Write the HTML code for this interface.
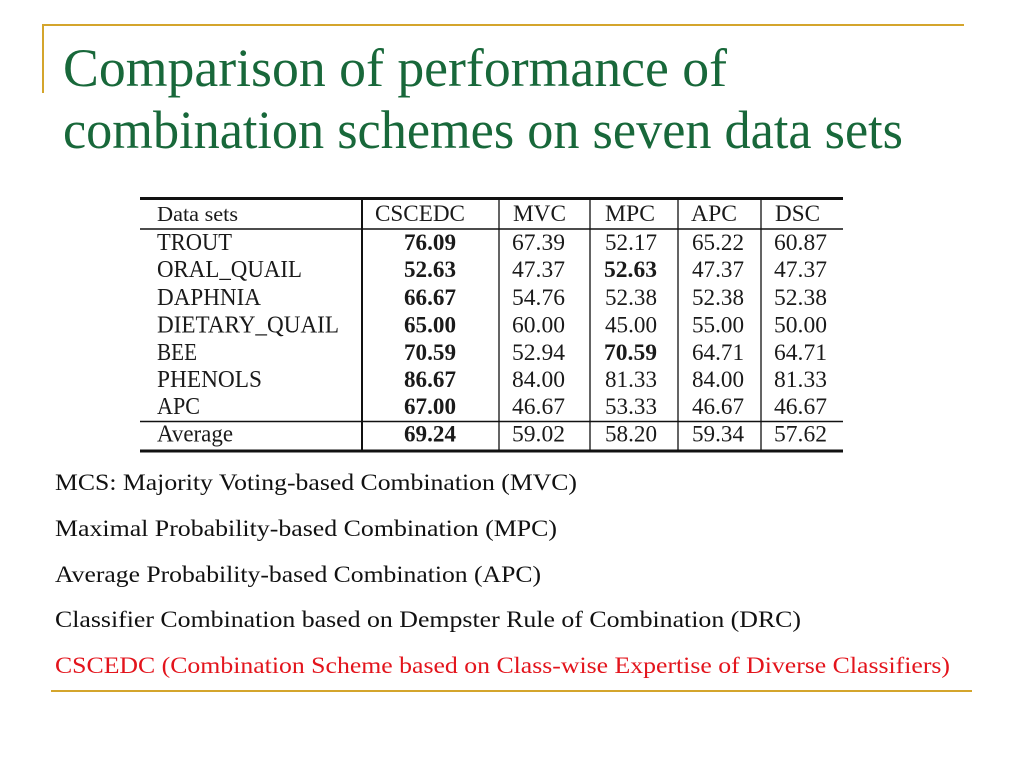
<!DOCTYPE html>
<html>
<head>
<meta charset="utf-8">
<style>
html,body{margin:0;padding:0;background:#fff;}
svg{display:block;}
</style>
</head>
<body>
<svg width="1024" height="768" viewBox="0 0 1024 768" xmlns="http://www.w3.org/2000/svg">
<rect width="1024" height="768" fill="#fff"/>
<!-- gold decorations -->
<line x1="42" y1="25" x2="964" y2="25" stroke="#d4a52c" stroke-width="2"/>
<line x1="43" y1="24" x2="43" y2="93" stroke="#d4a52c" stroke-width="2"/>
<line x1="51" y1="691" x2="972" y2="691" stroke="#d4a52c" stroke-width="2"/>

<!-- title -->
<g font-family="'Liberation Serif', serif" fill="#18683a" font-size="54">
<text x="63" y="86" textLength="664" lengthAdjust="spacingAndGlyphs">Comparison of performance of</text>
<text x="63" y="148" textLength="840" lengthAdjust="spacingAndGlyphs">combination schemes on seven data sets</text>
</g>

<!-- table lines -->
<g stroke="#111">
<line x1="140" y1="198.5" x2="843" y2="198.5" stroke-width="3"/>
<line x1="140" y1="229" x2="843" y2="229" stroke-width="1.5"/>
<line x1="140" y1="421.5" x2="843" y2="421.5" stroke-width="1.5"/>
<line x1="140" y1="451" x2="843" y2="451" stroke-width="3"/>
<line x1="362" y1="198" x2="362" y2="451" stroke-width="2"/>
<line x1="499" y1="198" x2="499" y2="451" stroke-width="1.3"/>
<line x1="590" y1="198" x2="590" y2="451" stroke-width="1.3"/>
<line x1="678" y1="198" x2="678" y2="451" stroke-width="1.3"/>
<line x1="761" y1="198" x2="761" y2="451" stroke-width="1.3"/>
</g>

<!-- table text -->
<g font-family="'Liberation Serif', serif" fill="#1a1a1a" font-size="23">
<text x="157" y="221" font-size="21" textLength="81" lengthAdjust="spacingAndGlyphs">Data sets</text>
<text x="375" y="221" textLength="90" lengthAdjust="spacingAndGlyphs">CSCEDC</text>
<text x="513" y="221" textLength="53" lengthAdjust="spacingAndGlyphs">MVC</text>
<text x="605" y="221" textLength="50" lengthAdjust="spacingAndGlyphs">MPC</text>
<text x="691" y="221" textLength="46" lengthAdjust="spacingAndGlyphs">APC</text>
<text x="775" y="221" textLength="45" lengthAdjust="spacingAndGlyphs">DSC</text>

<g font-size="24">
<text x="157" y="250" textLength="75" lengthAdjust="spacingAndGlyphs">TROUT</text>
<text x="157" y="277" textLength="145" lengthAdjust="spacingAndGlyphs">ORAL_QUAIL</text>
<text x="157" y="305" textLength="104" lengthAdjust="spacingAndGlyphs">DAPHNIA</text>
<text x="157" y="332.5" textLength="182" lengthAdjust="spacingAndGlyphs">DIETARY_QUAIL</text>
<text x="157" y="360" textLength="40" lengthAdjust="spacingAndGlyphs">BEE</text>
<text x="157" y="387" textLength="105" lengthAdjust="spacingAndGlyphs">PHENOLS</text>
<text x="157" y="414" textLength="43" lengthAdjust="spacingAndGlyphs">APC</text>
<text x="157" y="441.5" textLength="76" lengthAdjust="spacingAndGlyphs">Average</text>
</g>

<g font-weight="bold">
<text x="404" y="250" textLength="52" lengthAdjust="spacingAndGlyphs">76.09</text>
<text x="404" y="277" textLength="52" lengthAdjust="spacingAndGlyphs">52.63</text>
<text x="404" y="305" textLength="52" lengthAdjust="spacingAndGlyphs">66.67</text>
<text x="404" y="332.5" textLength="52" lengthAdjust="spacingAndGlyphs">65.00</text>
<text x="404" y="360" textLength="52" lengthAdjust="spacingAndGlyphs">70.59</text>
<text x="404" y="387" textLength="52" lengthAdjust="spacingAndGlyphs">86.67</text>
<text x="404" y="414" textLength="52" lengthAdjust="spacingAndGlyphs">67.00</text>
<text x="404" y="441.5" textLength="52" lengthAdjust="spacingAndGlyphs">69.24</text>
<text x="604" y="277" textLength="53" lengthAdjust="spacingAndGlyphs">52.63</text>
<text x="604" y="360" textLength="53" lengthAdjust="spacingAndGlyphs">70.59</text>
</g>

<!-- MVC -->
<text x="512" y="250" textLength="53" lengthAdjust="spacingAndGlyphs">67.39</text>
<text x="512" y="277" textLength="53" lengthAdjust="spacingAndGlyphs">47.37</text>
<text x="512" y="305" textLength="53" lengthAdjust="spacingAndGlyphs">54.76</text>
<text x="512" y="332.5" textLength="53" lengthAdjust="spacingAndGlyphs">60.00</text>
<text x="512" y="360" textLength="53" lengthAdjust="spacingAndGlyphs">52.94</text>
<text x="512" y="387" textLength="53" lengthAdjust="spacingAndGlyphs">84.00</text>
<text x="512" y="414" textLength="53" lengthAdjust="spacingAndGlyphs">46.67</text>
<text x="512" y="441.5" textLength="53" lengthAdjust="spacingAndGlyphs">59.02</text>
<!-- MPC -->
<text x="605" y="250" textLength="52" lengthAdjust="spacingAndGlyphs">52.17</text>
<text x="605" y="305" textLength="52" lengthAdjust="spacingAndGlyphs">52.38</text>
<text x="605" y="332.5" textLength="52" lengthAdjust="spacingAndGlyphs">45.00</text>
<text x="605" y="387" textLength="52" lengthAdjust="spacingAndGlyphs">81.33</text>
<text x="605" y="414" textLength="52" lengthAdjust="spacingAndGlyphs">53.33</text>
<text x="605" y="441.5" textLength="52" lengthAdjust="spacingAndGlyphs">58.20</text>
<!-- APC -->
<text x="692" y="250" textLength="52" lengthAdjust="spacingAndGlyphs">65.22</text>
<text x="692" y="277" textLength="52" lengthAdjust="spacingAndGlyphs">47.37</text>
<text x="692" y="305" textLength="52" lengthAdjust="spacingAndGlyphs">52.38</text>
<text x="692" y="332.5" textLength="52" lengthAdjust="spacingAndGlyphs">55.00</text>
<text x="692" y="360" textLength="52" lengthAdjust="spacingAndGlyphs">64.71</text>
<text x="692" y="387" textLength="52" lengthAdjust="spacingAndGlyphs">84.00</text>
<text x="692" y="414" textLength="52" lengthAdjust="spacingAndGlyphs">46.67</text>
<text x="692" y="441.5" textLength="52" lengthAdjust="spacingAndGlyphs">59.34</text>
<!-- DSC -->
<text x="774" y="250" textLength="53" lengthAdjust="spacingAndGlyphs">60.87</text>
<text x="774" y="277" textLength="53" lengthAdjust="spacingAndGlyphs">47.37</text>
<text x="774" y="305" textLength="53" lengthAdjust="spacingAndGlyphs">52.38</text>
<text x="774" y="332.5" textLength="53" lengthAdjust="spacingAndGlyphs">50.00</text>
<text x="774" y="360" textLength="53" lengthAdjust="spacingAndGlyphs">64.71</text>
<text x="774" y="387" textLength="53" lengthAdjust="spacingAndGlyphs">81.33</text>
<text x="774" y="414" textLength="53" lengthAdjust="spacingAndGlyphs">46.67</text>
<text x="774" y="441.5" textLength="53" lengthAdjust="spacingAndGlyphs">57.62</text>
</g>

<!-- body text -->
<g font-family="'Liberation Serif', serif" font-size="23.5" fill="#111">
<text x="55" y="490" textLength="522" lengthAdjust="spacingAndGlyphs">MCS: Majority Voting-based Combination (MVC)</text>
<text x="55" y="536" textLength="502" lengthAdjust="spacingAndGlyphs">Maximal Probability-based Combination (MPC)</text>
<text x="55" y="582" textLength="486" lengthAdjust="spacingAndGlyphs">Average Probability-based Combination (APC)</text>
<text x="55" y="627" textLength="746" lengthAdjust="spacingAndGlyphs">Classifier Combination based on Dempster Rule of  Combination (DRC)</text>
<text x="55" y="673" textLength="895" lengthAdjust="spacingAndGlyphs" fill="#e3141c">CSCEDC (Combination Scheme based on Class-wise Expertise of  Diverse Classifiers)</text>
</g>
</svg>
</body>
</html>
